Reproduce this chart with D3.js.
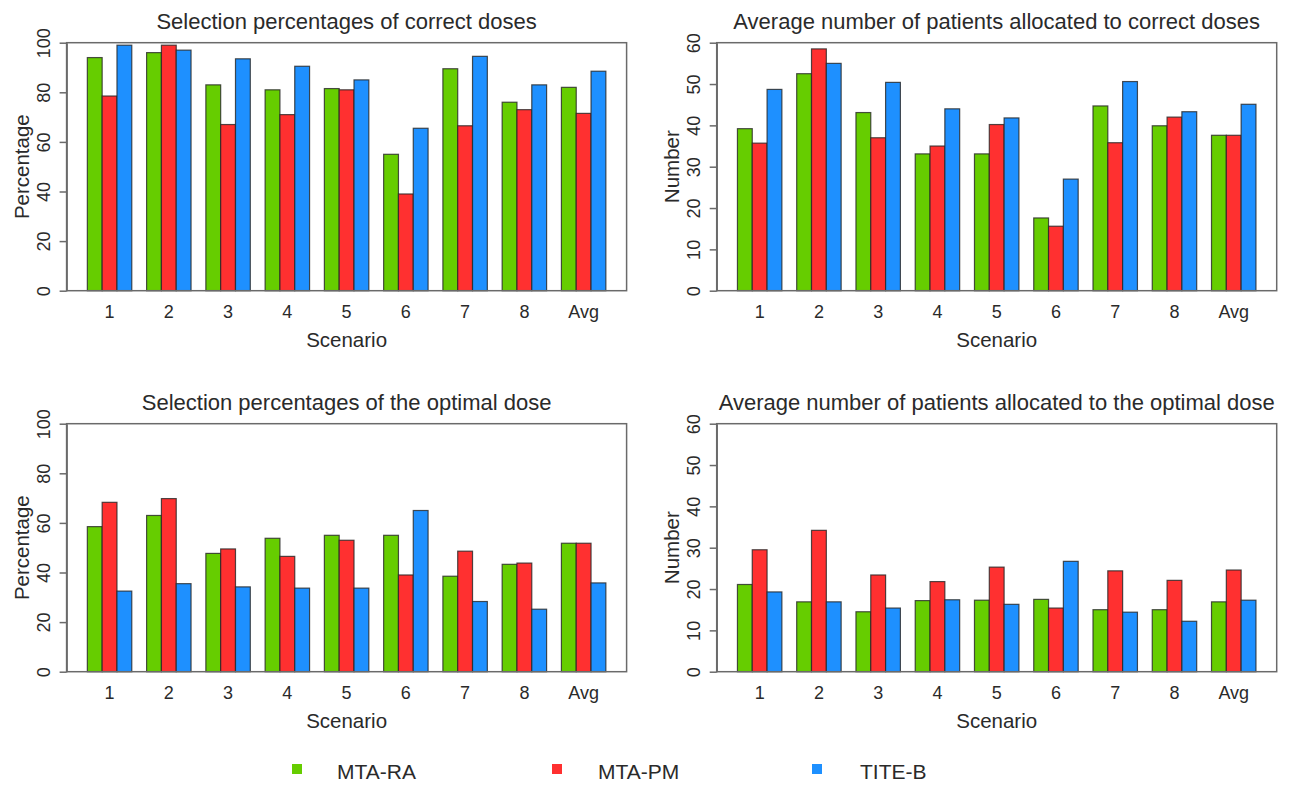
<!DOCTYPE html>
<html>
<head>
<meta charset="utf-8">
<script src="https://cdn.jsdelivr.net/npm/d3@7"></script>
<style>
  html, body { margin: 0; padding: 0; background: #fff; }
  svg { display: block; font-family: "Liberation Sans", Arial, Helvetica, sans-serif; }
</style>
</head>
<body>
<svg id="chart" width="1295" height="788"></svg>
<script>
// Scenario categories and design names
const categories = ["1", "2", "3", "4", "5", "6", "7", "8", "Avg"];
const designs = ["MTA-RA", "MTA-PM", "TITE-B"];
const designColors = ["#66CD00", "#FF3030", "#1E90FF"];

// Selection percentages of correct doses
const selCorrectRA = [94, 96, 83, 81, 81.5, 55, 89.5, 76, 82];
const selCorrectPM = [78.5, 99, 67, 71, 81, 39, 66.5, 73, 71.5];
const selCorrectTB = [99, 97, 93.5, 90.5, 85, 65.5, 94.5, 83, 88.5];

// Average number of patients allocated to correct doses
const nCorrectRA = [39.2, 52.5, 43.1, 33.1, 33.1, 17.6, 44.7, 39.9, 37.6];
const nCorrectPM = [35.7, 58.5, 37, 35, 40.2, 15.6, 35.8, 42, 37.6];
const nCorrectTB = [48.7, 55, 50.4, 44, 41.8, 27, 50.6, 43.3, 45.1];

// Selection percentages of the optimal dose
const selOptimalRA = [58.5, 63, 47.7, 53.8, 55, 55, 38.5, 43.3, 51.8];
const selOptimalPM = [68.3, 69.8, 49.5, 46.5, 53, 39, 48.6, 43.8, 51.8];
const selOptimalTB = [32.5, 35.5, 34.2, 33.7, 33.7, 65, 28.3, 25.2, 35.8];

// Average number of patients allocated to the optimal dose
const nOptimalRA = [21.1, 16.9, 14.5, 17.2, 17.3, 17.5, 15, 15, 16.9];
const nOptimalPM = [29.5, 34.2, 23.4, 21.8, 25.3, 15.4, 24.4, 22.1, 24.6];
const nOptimalTB = [19.3, 16.9, 15.4, 17.4, 16.3, 26.7, 14.4, 12.2, 17.3];

// Axis ticks
const pctTicks = [0, 20, 40, 60, 80, 100];
const numTicks = [0, 10, 20, 30, 40, 50, 60];

const panels = [
  { title: "Selection percentages of correct doses", ylab: "Percentage",
    series: [selCorrectRA, selCorrectPM, selCorrectTB], ticks: pctTicks,
    x0: 66.6, x1: 626.6, y0: 42.7, y1: 290.7 },
  { title: "Average number of patients allocated to correct doses", ylab: "Number",
    series: [nCorrectRA, nCorrectPM, nCorrectTB], ticks: numTicks,
    x0: 716.7, x1: 1276.7, y0: 42.7, y1: 290.7 },
  { title: "Selection percentages of the optimal dose", ylab: "Percentage",
    series: [selOptimalRA, selOptimalPM, selOptimalTB], ticks: pctTicks,
    x0: 66.6, x1: 626.6, y0: 423.7, y1: 671.7 },
  { title: "Average number of patients allocated to the optimal dose", ylab: "Number",
    series: [nOptimalRA, nOptimalPM, nOptimalTB], ticks: numTicks,
    x0: 716.7, x1: 1276.7, y0: 423.7, y1: 671.7 }
];

const svg = d3.select("#chart");
const textColor = "#2a2a2a";
const frameColor = "#6a6a6a";

panels.forEach(p => {
  const g = svg.append("g");

  const x = d3.scaleBand()
    .domain(categories)
    .range([p.x0, p.x1])
    .paddingInner(0.25)
    .paddingOuter(0.35);
  const xs = d3.scaleBand()
    .domain(designs)
    .range([0, x.bandwidth()])
    .padding(0);
  const y = d3.scaleLinear()
    .domain([0, d3.max(p.ticks)])
    .range([p.y1, p.y0]);

  // bars
  const rows = categories.map((c, i) => ({ cat: c, vals: designs.map((d, k) => ({ design: d, k: k, v: p.series[k][i] })) }));
  g.append("g").selectAll("g")
    .data(rows)
    .join("g")
      .attr("transform", d => `translate(${x(d.cat)},0)`)
    .selectAll("rect")
    .data(d => d.vals)
    .join("rect")
      .attr("x", d => xs(d.design))
      .attr("y", d => y(d.v))
      .attr("width", xs.bandwidth())
      .attr("height", d => y(0) - y(d.v))
      .attr("fill", d => designColors[d.k])
      .attr("stroke", "#262626")
      .attr("stroke-opacity", 0.8)
      .attr("stroke-width", 1.2);

  // frame
  g.append("rect")
    .attr("x", p.x0).attr("y", p.y0)
    .attr("width", p.x1 - p.x0).attr("height", p.y1 - p.y0)
    .attr("fill", "none")
    .attr("stroke", frameColor)
    .attr("stroke-width", 1.5);

  // y axis with rotated labels
  const yAxis = g.append("g")
    .attr("transform", `translate(${p.x0},0)`)
    .call(d3.axisLeft(y).tickValues(p.ticks).tickSize(7).tickSizeOuter(0));
  yAxis.select(".domain").attr("stroke", frameColor).attr("stroke-width", 1.5);
  yAxis.selectAll(".tick line").attr("stroke", frameColor).attr("stroke-width", 1.5);
  yAxis.selectAll(".tick text")
    .attr("transform", "rotate(-90)")
    .attr("x", 0)
    .attr("y", -17)
    .attr("dy", 0)
    .attr("text-anchor", "middle")
    .attr("fill", textColor)
    .style("font-size", "18px")
    .style("font-family", "'Liberation Sans', Arial, sans-serif");

  // x tick labels (no axis line)
  const xAxis = g.append("g")
    .attr("transform", `translate(0,${p.y1})`)
    .call(d3.axisBottom(x).tickSize(0).tickPadding(0));
  xAxis.select(".domain").remove();
  xAxis.selectAll(".tick text")
    .attr("y", 27.5)
    .attr("dy", 0)
    .attr("fill", textColor)
    .style("font-size", "18px")
    .style("font-family", "'Liberation Sans', Arial, sans-serif");

  // title
  g.append("text")
    .attr("x", (p.x0 + p.x1) / 2)
    .attr("y", p.y0 - 14.2)
    .attr("text-anchor", "middle")
    .attr("fill", textColor)
    .style("font-size", "22px")
    .text(p.title);

  // axis titles
  g.append("text")
    .attr("x", (p.x0 + p.x1) / 2)
    .attr("y", p.y1 + 56)
    .attr("text-anchor", "middle")
    .attr("fill", textColor)
    .style("font-size", "20.5px")
    .text("Scenario");

  g.append("text")
    .attr("transform", `translate(${p.x0 - 38},${(p.y0 + p.y1) / 2}) rotate(-90)`)
    .attr("text-anchor", "middle")
    .attr("fill", textColor)
    .style("font-size", "20.5px")
    .text(p.ylab);
});

// legend
const legendX = d3.scalePoint().domain(designs).range([297, 817]);
const legend = svg.append("g").selectAll("g")
  .data(designs)
  .join("g")
    .attr("transform", d => `translate(${legendX(d)},769)`);
legend.append("rect")
  .attr("x", -5).attr("y", -5)
  .attr("width", 10).attr("height", 10)
  .attr("fill", (d, i) => designColors[i]);
legend.append("text")
  .attr("x", (d, i) => [40, 41, 43][i])
  .attr("y", 10)
  .attr("fill", textColor)
  .style("font-size", "21px")
  .text(d => d);
</script>
</body>
</html>
